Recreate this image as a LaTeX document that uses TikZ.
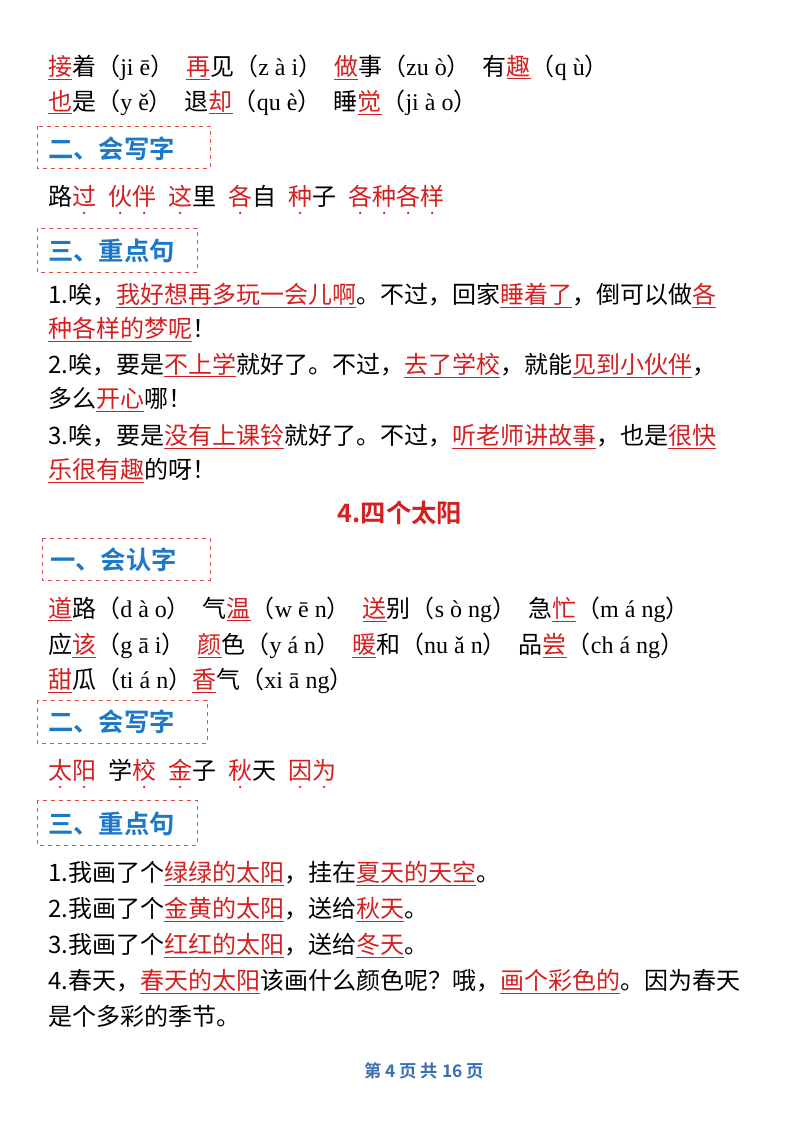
\documentclass[tikz,border=0pt]{standalone}
\usepackage{fontspec}
\setmainfont{Liberation Serif}
\newfontfamily\cjk{Noto Sans CJK SC}
\newfontfamily\cjkb{Noto Sans CJK SC Bold}
\definecolor{rd}{HTML}{D42020}
\definecolor{bl}{HTML}{1E78C8}
\definecolor{ft}{HTML}{3A70B0}
\newcommand\ru[1]{{\color{rd}\underline{#1}}}
\newcommand\rdot[1]{{\color{rd}\setbox0\hbox{#1}\rlap{\hbox to\wd0{\hss\raisebox{-0.5em}{\scalebox{0.45}{\textbullet}}\hss}}\box0}}
\newcommand\py[1]{（{\rmfamily #1}）}
\newcommand\gp{\hspace{0.5em}}
\begin{document}
\begin{tikzpicture}[x=0.75pt,y=-0.75pt,
  ln/.style={anchor=base west,inner sep=0,font=\cjk\fontsize{18}{20}\selectfont},
  hd/.style={anchor=base west,inner sep=0,font=\cjkb\fontsize{19}{20}\selectfont,text=bl},
  hbox/.style={draw=rd!80,dashed,line width=0.6pt}]
\useasboundingbox (0,0) rectangle (800,1132);
\fill[white] (0,0) rectangle (800,1132);
\node[ln] (a1) at (48,75) {\ru{接}着\py{ji ē}\gp\ru{再}见\py{z à i}\gp\ru{做}事\py{zu ò}\gp 有\ru{趣}\py{q ù}};
\node[ln] (a2) at (48,110) {\ru{也}是\py{y ě}\gp 退\ru{却}\py{qu è}\gp 睡\ru{觉}\py{ji à o}};
\draw[hbox] (37,126) rectangle (210,168);
\node[hd] (h1) at (48,158) {二、会写字};
\node[ln] (b1) at (48,205) {路\rdot{过}\gp\rdot{伙}\rdot{伴}\gp\rdot{这}里\gp\rdot{各}自\gp\rdot{种}子\gp\rdot{各}\rdot{种}\rdot{各}\rdot{样}};
\draw[hbox] (37,228) rectangle (197,272);
\node[hd] (h2) at (48,260) {三、重点句};
\node[ln] (c1) at (48,303) {1.唉，\ru{我好想再多玩一会儿啊}。不过，回家\ru{睡着了}，倒可以做\ru{各}};
\node[ln] (c2) at (48,337) {\ru{种各样的梦呢}！};
\node[ln] (c3) at (48,373) {2.唉，要是\ru{不上学}就好了。不过，\ru{去了学校}，就能\ru{见到小伙伴}，};
\node[ln] (c4) at (48,407) {多么\ru{开心}哪！};
\node[ln] (c5) at (48,444) {3.唉，要是\ru{没有上课铃}就好了。不过，\ru{听老师讲故事}，也是\ru{很快}};
\node[ln] (c6) at (48,478) {\ru{乐很有趣}的呀！};
\node[anchor=base,inner sep=0,font=\cjkb\fontsize{19}{20}\selectfont,text=rd] (t) at (400,522) {4.四个太阳};
\draw[hbox] (42,538) rectangle (210,580);
\node[hd] (h3) at (50,569) {一、会认字};
\node[ln] (d1) at (48,617) {\ru{道}路\py{d à o}\gp 气\ru{温}\py{w ē n}\gp\ru{送}别\py{s ò ng}\gp 急\ru{忙}\py{m á ng}};
\node[ln] (d2) at (48,653) {应\ru{该}\py{g ā i}\gp\ru{颜}色\py{y á n}\gp\ru{暖}和\py{nu ǎ n}\gp 品\ru{尝}\py{ch á ng}};
\node[ln] (d3) at (48,688) {\ru{甜}瓜\py{ti á n}\ru{香}气\py{xi ā ng}};
\draw[hbox] (37,700) rectangle (207,743);
\node[hd] (h4) at (48,731) {二、会写字};
\node[ln] (e1) at (48,779) {\rdot{太}\rdot{阳}\gp 学\rdot{校}\gp\rdot{金}子\gp\rdot{秋}天\gp\rdot{因}\rdot{为}};
\draw[hbox] (37,800) rectangle (197,845);
\node[hd] (h5) at (48,833) {三、重点句};
\node[ln] (f1) at (48,881) {1.我画了个\ru{绿绿的太阳}，挂在\ru{夏天的天空}。};
\node[ln] (f2) at (48,917) {2.我画了个\ru{金黄的太阳}，送给\ru{秋天}。};
\node[ln] (f3) at (48,953) {3.我画了个\ru{红红的太阳}，送给\ru{冬天}。};
\node[ln] (f4) at (48,989) {4.春天，\ru{春天的太阳}该画什么颜色呢？哦，\ru{画个彩色的}。因为春天};
\node[ln] (f5) at (48,1025) {是个多彩的季节。};
\node[anchor=base,inner sep=0,font=\cjkb\fontsize{13}{14}\selectfont,text=ft] (pg) at (424,1077) {第 4 页 共 16 页};
\end{tikzpicture}
\end{document}
